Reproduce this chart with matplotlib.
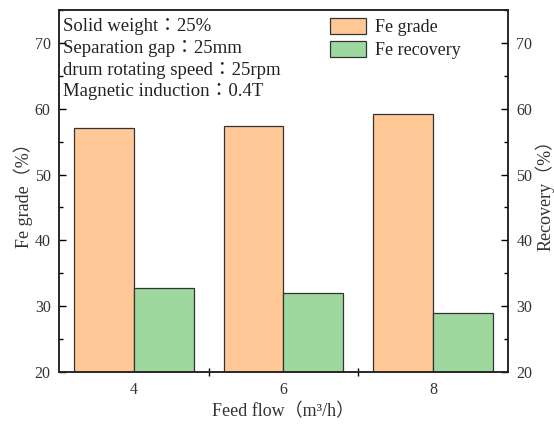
import numpy as np
import matplotlib
matplotlib.use("Agg")
import matplotlib.pyplot as plt
from matplotlib.ticker import MultipleLocator, FixedLocator

# data
feed_flow = [4, 6, 8]
fe_grade = [57.0, 57.4, 59.2]
fe_recovery = [32.8, 32.0, 29.0]
conditions = ['Solid weight：25%',
              'Separation gap：25mm',
              'drum rotating speed：25rpm',
              'Magnetic induction：0.4T']

fam = ['Liberation Serif', 'Noto Sans CJK TC', 'DejaVu Sans']
plt.rcParams['font.family'] = fam

orange = '#FFC896'
green = '#9ED89E'

fig = plt.figure(figsize=(5.54, 4.25), dpi=100)
W, H = 554, 425
ax = fig.add_axes([59 / W, 1 - 372 / H, (508 - 59) / W, (372 - 10) / H])

x = np.array(feed_flow, dtype=float)
b1 = ax.bar(x - 0.4, fe_grade, width=0.8, color=orange, edgecolor='#333333', linewidth=0.9, label='Fe grade')
b2 = ax.bar(x + 0.4, fe_recovery, width=0.8, color=green, edgecolor='#333333', linewidth=0.9, label='Fe recovery')

ax.set_xlim(3, 9)
ax.set_ylim(20, 75)
ax.set_xticks(feed_flow)
ax.xaxis.set_minor_locator(FixedLocator([5, 7]))
ax.yaxis.set_major_locator(FixedLocator([20, 30, 40, 50, 60, 70]))
ax.yaxis.set_minor_locator(MultipleLocator(5))

ax2 = ax.twinx()
ax2.set_ylim(20, 75)
ax2.yaxis.set_major_locator(FixedLocator([20, 30, 40, 50, 60, 70]))
ax2.yaxis.set_minor_locator(MultipleLocator(5))

for a in (ax, ax2):
    for s in a.spines.values():
        s.set_linewidth(1.1)
        s.set_color('#222222')

ax.tick_params(axis='y', which='major', direction='in', length=5, width=1.0, pad=6, labelsize=11.5)
ax.tick_params(axis='y', which='minor', direction='in', length=3, width=1.0)
ax.tick_params(axis='y', right=False)
ax2.tick_params(axis='y', which='major', direction='in', length=5, width=1.0, pad=6, labelsize=11.5)
ax2.tick_params(axis='y', which='minor', direction='in', length=3, width=1.0)
ax.tick_params(axis='x', which='major', length=0, pad=7, labelsize=11.5)
ax.tick_params(axis='x', which='minor', direction='inout', length=6, width=1.0)
for lab in ax.get_yticklabels() + ax2.get_yticklabels() + ax.get_xticklabels():
    lab.set_color('#333333')

ax.set_ylabel('Fe grade（%）', fontsize=13, color='#333333', labelpad=1)
ax2.set_ylabel('Recovery（%）', fontsize=13, color='#333333', labelpad=2)
ax.set_xlabel('Feed flow（m³/h）', fontsize=13, color='#333333', labelpad=4)

for i, t in enumerate(conditions):
    yc = [27, 49, 71, 92][i]
    ax.text(4 / 449, (372 - yc) / 362, t, transform=ax.transAxes, ha='left', va='center',
            fontsize=13.5, color='#222222')

ax.legend(handles=[b1, b2], loc='upper left', bbox_to_anchor=((330 - 59) / 449, (372 - 18) / 362),
          frameon=False, fontsize=13, borderpad=0, borderaxespad=0,
          handlelength=2.0, handleheight=1.0, handletextpad=0.5, labelspacing=0.25,
          labelcolor='#222222')

fig.savefig('out.png', dpi=100)
